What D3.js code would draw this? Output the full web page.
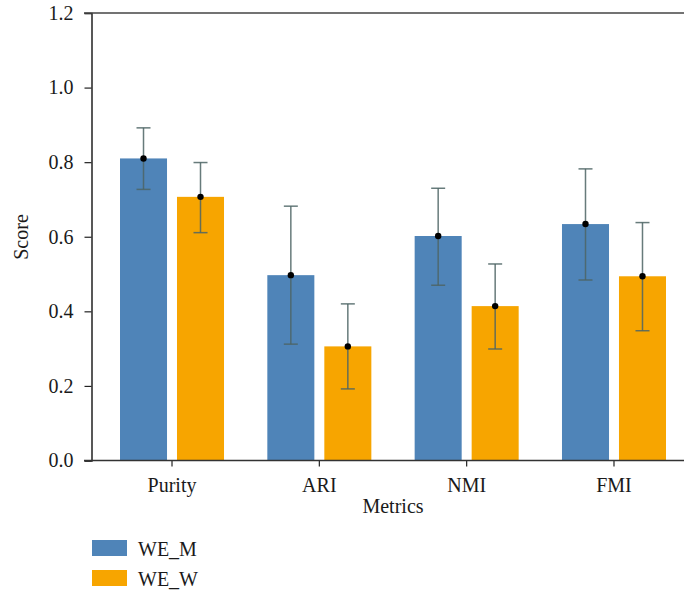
<!DOCTYPE html>
<html><head><meta charset="utf-8">
<script src="https://cdn.jsdelivr.net/npm/d3@7"></script>
<style>body{margin:0;background:#fff;} svg{display:block;}</style>
</head><body>
<svg id="c" width="684" height="593"></svg>
<script>
const categories = ["Purity","ARI","NMI","FMI"];
const seriesNames = ["WE_M","WE_W"];
const meanM = [0.810,0.497,0.602,0.634];
const lowM  = [0.727,0.312,0.470,0.484];
const highM = [0.892,0.682,0.730,0.782];
const meanW = [0.707,0.306,0.414,0.494];
const lowW  = [0.611,0.192,0.299,0.348];
const highW = [0.799,0.420,0.527,0.638];
const yTicks = [0.0,0.2,0.4,0.6,0.8,1.0,1.2];
const colors = ["#4f84b8","#f7a500"];

(function(){
const FONT = '"Liberation Serif"';
const FS = 20;
const svg = d3.select("#c");
const mLeft = 91.5, mRight = 684, mTop = 13, mBottom = 460.5;
const y = d3.scaleLinear().domain([0,1.2]).range([mBottom, mTop]);
const x0 = d3.scaleBand().domain(categories).range([120, 666]).paddingInner(0.294).paddingOuter(0);
const x1 = d3.scaleBand().domain(seriesNames).range([0, x0.bandwidth()]).paddingInner(0.175).paddingOuter(0);

const series = [
  {name:"WE_M", mean:meanM, low:lowM, high:highM, color:colors[0]},
  {name:"WE_W", mean:meanW, low:lowW, high:highW, color:colors[1]}
];

const g = svg.append("g");
series.forEach(s => {
  categories.forEach((c,i) => {
    const bx = x0(c) + x1(s.name);
    g.append("rect").attr("x", bx).attr("width", x1.bandwidth())
      .attr("y", y(s.mean[i])).attr("height", y(0)-y(s.mean[i])).attr("fill", s.color);
  });
});
series.forEach(s => {
  categories.forEach((c,i) => {
    const cx = x0(c) + x1(s.name) + x1.bandwidth()/2;
    const ec = "#4d6565";
    g.append("line").attr("x1",cx).attr("x2",cx).attr("y1",y(s.high[i])).attr("y2",y(s.low[i]))
      .attr("stroke",ec).attr("stroke-width",1.5).attr("opacity",0.85);
    [s.high[i], s.low[i]].forEach(v => {
      g.append("line").attr("x1",cx-7).attr("x2",cx+7).attr("y1",y(v)).attr("y2",y(v))
        .attr("stroke",ec).attr("stroke-width",1.5).attr("opacity",0.85);
    });
    g.append("circle").attr("cx",cx).attr("cy",y(s.mean[i])).attr("r",3.2).attr("fill","#000");
  });
});

const yAxis = d3.axisLeft(y).tickValues(yTicks).tickFormat(d3.format(".1f")).tickSizeOuter(0).tickSize(7).tickPadding(11);
const ya = svg.append("g").attr("transform",`translate(${mLeft},0)`).call(yAxis);
ya.attr("font-family",null);
ya.select(".domain").attr("stroke","#222").attr("stroke-width",1.5);
ya.selectAll(".tick line").attr("stroke","#222").attr("stroke-width",1.2);
ya.selectAll(".tick text").attr("font-size",FS).attr("fill","#1a1a1a").style("font-family",FONT);

const xAxis = d3.axisBottom(x0).tickSize(6).tickSizeOuter(0).tickPadding(11);
const xa = svg.append("g").attr("transform",`translate(0,${mBottom})`).call(xAxis);
xa.attr("font-family",null);
xa.select(".domain").remove();
xa.selectAll(".tick line").attr("stroke","#222").attr("stroke-width",1.2);
xa.selectAll(".tick text").attr("font-size",FS).attr("fill","#1a1a1a").style("font-family",FONT);

svg.append("line").attr("x1",84).attr("x2",mRight).attr("y1",mBottom).attr("y2",mBottom).attr("stroke","#333").attr("stroke-width",1.5);
svg.append("line").attr("x1",84).attr("x2",mRight).attr("y1",mTop).attr("y2",mTop).attr("stroke","#444").attr("stroke-width",1.5);

svg.append("text").attr("x",393).attr("y",513).attr("text-anchor","middle").attr("font-size",FS).attr("fill","#1a1a1a").style("font-family",FONT).text("Metrics");
svg.append("text").attr("transform",`translate(28,237) rotate(-90)`).attr("text-anchor","middle").attr("font-size",FS).attr("fill","#1a1a1a").style("font-family",FONT).text("Score");

series.forEach((s,i) => {
  const ly = 540 + i*30;
  svg.append("rect").attr("x",92).attr("y",ly).attr("width",35).attr("height",16).attr("fill",s.color);
  svg.append("text").attr("x",138).attr("y",ly+15.5).attr("font-size",FS).attr("fill","#1a1a1a").style("font-family",FONT).text(s.name);
});
})();
</script>
</body></html>
